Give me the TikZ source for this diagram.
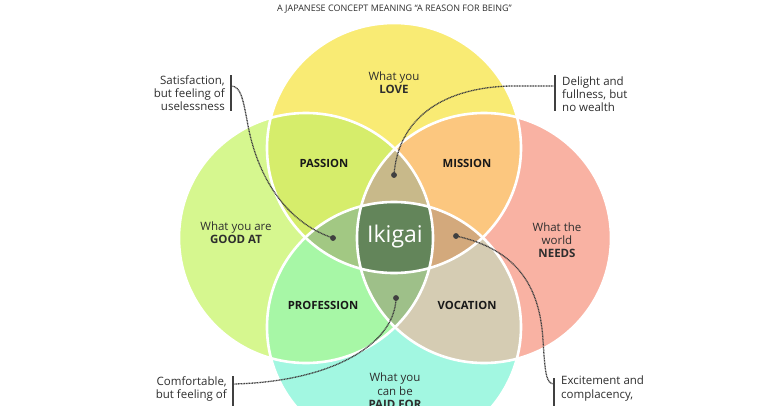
\documentclass[tikz,border=0pt]{standalone}
\usepackage{fontspec}
\setmainfont{Open Sans}
\definecolor{cLove}{HTML}{F9EB74}
\definecolor{cGood}{HTML}{D6F78F}
\definecolor{cNeed}{HTML}{F9B2A3}
\definecolor{cPaid}{HTML}{A2F7E1}
\definecolor{cPassion}{HTML}{D6ED6B}
\definecolor{cMission}{HTML}{FCC77F}
\definecolor{cProf}{HTML}{A7F7A6}
\definecolor{cVoc}{HTML}{D5CCB3}
\definecolor{cTU}{HTML}{C8B98A}
\definecolor{cTL}{HTML}{A2C883}
\definecolor{cTR}{HTML}{D3A97C}
\definecolor{cTB}{HTML}{9EC089}
\definecolor{cCore}{HTML}{63855A}
\definecolor{ink}{HTML}{2E2E2E}
\definecolor{wire}{HTML}{404040}
\def\pT{(394,148) ellipse [x radius=127, y radius=125]}
\def\pB{(394,327) ellipse [x radius=127, y radius=125]}
\def\pL{(306,238) ellipse [x radius=127, y radius=125]}
\def\pR{(484,238) ellipse [x radius=127, y radius=125]}
\begin{document}
\begin{tikzpicture}[x=1pt,y=-1pt,
  lbl/.style={font=\fontsize{11.5}{13.2}\selectfont, text=ink, align=center, inner sep=0pt},
  side/.style={font=\fontsize{11.5}{13.2}\selectfont, text=ink, inner sep=0pt},
  hd/.style={font=\bfseries\fontsize{11.3}{13}\selectfont, text=black!90, inner sep=0pt},
  conn/.style={wire, line width=1.3pt, dash pattern=on 1pt off 0.6pt},
  barline/.style={wire, line width=2.2pt},
  dotn/.style={circle, fill=wire, inner sep=0pt, minimum size=5.5pt},
  rim/.style={white, line width=2.6pt}]
\useasboundingbox (0,0) rectangle (780,405);
\clip (0,0) rectangle (780,405);
\fill[white] (0,0) rectangle (780,405);
% base circles
\fill[cLove] \pT;
\fill[cGood] \pL;
\fill[cNeed] \pR;
\fill[cPaid] \pB;
% pairs
\begin{scope}\clip \pT; \fill[cPassion] \pL; \end{scope}
\begin{scope}\clip \pT; \fill[cMission] \pR; \end{scope}
\begin{scope}\clip \pB; \fill[cProf] \pL; \end{scope}
\begin{scope}\clip \pB; \fill[cVoc] \pR; \end{scope}
% triples
\begin{scope}\clip \pT; \clip \pL; \fill[cTU] \pR; \end{scope}
\begin{scope}\clip \pT; \clip \pB; \fill[cTL] \pL; \end{scope}
\begin{scope}\clip \pT; \clip \pB; \fill[cTR] \pR; \end{scope}
\begin{scope}\clip \pB; \clip \pL; \fill[cTB] \pR; \end{scope}
% core
\begin{scope}\clip \pT; \clip \pB; \clip \pL; \fill[cCore] \pR; \end{scope}
% outlines
\draw[rim] \pT; \draw[rim] \pL; \draw[rim] \pR; \draw[rim] \pB;
% title
\node[font=\fontsize{9}{11}\selectfont, text=ink, inner sep=0pt] (title) at (394.5,9) {A JAPANESE CONCEPT MEANING “A REASON FOR BEING”};
% circle labels
\node[lbl] (love) at (394,83) {What you\\\textbf{LOVE}};
\node[lbl] (good) at (236,233) {What you are\\\textbf{GOOD AT}};
\node[lbl] (needs) at (557,240) {What the\\world\\\textbf{NEEDS}};
\node[lbl, anchor=north] (paid) at (395,373) {What you\\can be\\\textbf{PAID FOR}};
% overlap labels
\node[hd] (passion) at (324,163) {PASSION};
\node[hd] (mission) at (467,163) {MISSION};
\node[hd] (profession) at (323,305) {PROFESSION};
\node[hd] (vocation) at (467,305) {VOCATION};
\node[font=\fontsize{23}{26}\selectfont, text=white, inner sep=0pt] (ikigai) at (395,237) {Ikigai};
% side notes
\node[side, align=right, anchor=east] (tl) at (225,93) {Satisfaction,\\but feeling of\\uselessness};
\node[side, align=left, anchor=west] (tr) at (562,94) {Delight and\\fullness, but\\no wealth};
\node[side, align=right, anchor=north east] (bl) at (227,376) {Comfortable,\\but feeling of};
\node[side, align=left, anchor=north west] (br) at (561,376) {Excitement and\\complacency,};
% bars
\coordinate (tlT) at (231,75); \coordinate (tlB) at (231,111); \coordinate (tlC) at (231,86);
\coordinate (trT) at (555,75); \coordinate (trB) at (555,111); \coordinate (trC) at (555,86);
\coordinate (blT) at (233,376); \coordinate (blB) at (233,412); \coordinate (blC) at (233,384);
\coordinate (brT) at (554,378); \coordinate (brB) at (554,412); \coordinate (brC) at (554,384);
\draw[barline] (tlT) -- (tlB);
\draw[barline] (trT) -- (trB);
\draw[barline] (blT) -- (blB);
\draw[barline] (brT) -- (brB);
% dots
\node[dotn] (dL) at (333,238) {};
\node[dotn] (dU) at (394,175) {};
\node[dotn] (dR) at (456,236) {};
\node[dotn] (dD) at (396,298) {};
% connectors
\draw[conn] (tlC) .. controls (241,86) and (243,100) .. (247,120) .. controls (256,175) and (285,222) .. (dL.center);
\draw[conn] (trC) -- (510,86) .. controls (440,88) and (398,120) .. (dU.center);
\draw[conn] (blC) .. controls (330,382) and (395,345) .. (dD.center);
\draw[conn] (dR.center) .. controls (520,250) and (540,290) .. (543,340) .. controls (545,372) and (546,384) .. (brC);
\node[dotn] at (dL) {};
\node[dotn] at (dU) {};
\node[dotn] at (dR) {};
\node[dotn] at (dD) {};
\end{tikzpicture}
\end{document}
